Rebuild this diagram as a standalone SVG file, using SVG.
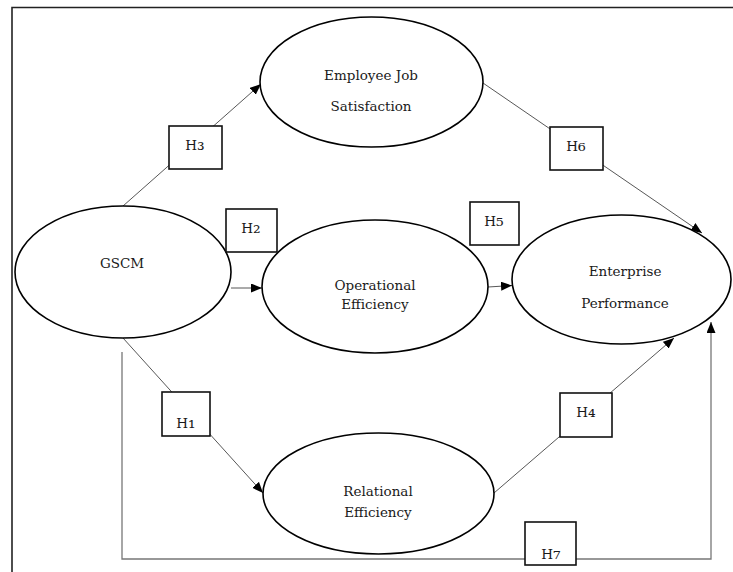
<svg xmlns="http://www.w3.org/2000/svg" width="733" height="572" viewBox="0 0 733 572">
<style>
.frame{fill:none;stroke:#222;stroke-width:1.6}
.node{fill:#fff;stroke:#000;stroke-width:1.6}
.box{fill:#fff;stroke:#111;stroke-width:1.6}
.edge{fill:none;stroke:#444;stroke-width:0.9}
.edge7{fill:none;stroke:#777;stroke-width:1.3}
text{font-family:"DejaVu Serif","Liberation Serif",serif;font-size:13.5px;fill:#1a1a1a;text-anchor:middle}
.sub{font-size:19px}
</style>
<defs>
<marker id="ah" markerUnits="userSpaceOnUse" markerWidth="12" markerHeight="10" refX="11" refY="4.5" orient="auto">
<path d="M0,0 L11,4.5 L0,9 z" fill="#000"/>
</marker>
</defs>
<rect x="0" y="0" width="733" height="572" fill="#fff"/>
<path class="frame" d="M12,572 V7.5 H733"/>
<g id="connectors">
<line class="edge" x1="123" y1="206" x2="261" y2="84" marker-end="url(#ah)"/>
<line class="edge" x1="231" y1="288" x2="262" y2="288" marker-end="url(#ah)"/>
<line class="edge" x1="488" y1="287" x2="512" y2="285.5" marker-end="url(#ah)"/>
<line class="edge" x1="483" y1="83" x2="702" y2="233" marker-end="url(#ah)"/>
<line class="edge" x1="123" y1="338" x2="263" y2="493" marker-end="url(#ah)"/>
<line class="edge" x1="494" y1="493" x2="674" y2="338" marker-end="url(#ah)"/>
<polyline class="edge7" points="122,352 122,559 711,559 711,322" marker-end="url(#ah)"/>
</g>
<g id="node-employee">
<ellipse class="node" cx="371.5" cy="82" rx="111.5" ry="65"/>
<text x="371" y="80">Employee Job</text>
<text x="371" y="111">Satisfaction</text>
</g>
<g id="node-gscm">
<ellipse class="node" cx="123" cy="272" rx="108" ry="66"/>
<text x="122" y="268">GSCM</text>
</g>
<g id="node-operational">
<ellipse class="node" cx="375" cy="286.5" rx="113" ry="66.5"/>
<text x="375" y="290">Operational</text>
<text x="375" y="309">Efficiency</text>
</g>
<g id="node-enterprise">
<ellipse class="node" cx="621.5" cy="279.5" rx="109.5" ry="64.5"/>
<text x="625" y="276">Enterprise</text>
<text x="625" y="308">Performance</text>
</g>
<g id="node-relational">
<ellipse class="node" cx="378.5" cy="493.5" rx="115.5" ry="60.5"/>
<text x="378" y="496">Relational</text>
<text x="378" y="517">Efficiency</text>
</g>
<g id="label-h3">
<rect class="box" x="169" y="126" width="53" height="43"/>
<text x="195" y="150">H<tspan class="sub">₃</tspan></text>
</g>
<g id="label-h2">
<rect class="box" x="226" y="209" width="51" height="43"/>
<text x="251" y="233">H<tspan class="sub">₂</tspan></text>
</g>
<g id="label-h5">
<rect class="box" x="470" y="202" width="49" height="43"/>
<text x="494" y="226">H<tspan class="sub">₅</tspan></text>
</g>
<g id="label-h6">
<rect class="box" x="550" y="127" width="53" height="43"/>
<text x="576" y="151">H<tspan class="sub">₆</tspan></text>
</g>
<g id="label-h1">
<rect class="box" x="162" y="392" width="48" height="44"/>
<text x="186" y="428">H<tspan class="sub">₁</tspan></text>
</g>
<g id="label-h4">
<rect class="box" x="560" y="393" width="52" height="44"/>
<text x="586" y="417">H<tspan class="sub">₄</tspan></text>
</g>
<g id="label-h7">
<rect class="box" x="525" y="522" width="51" height="43"/>
<text x="551" y="559">H<tspan class="sub">₇</tspan></text>
</g>
</svg>
